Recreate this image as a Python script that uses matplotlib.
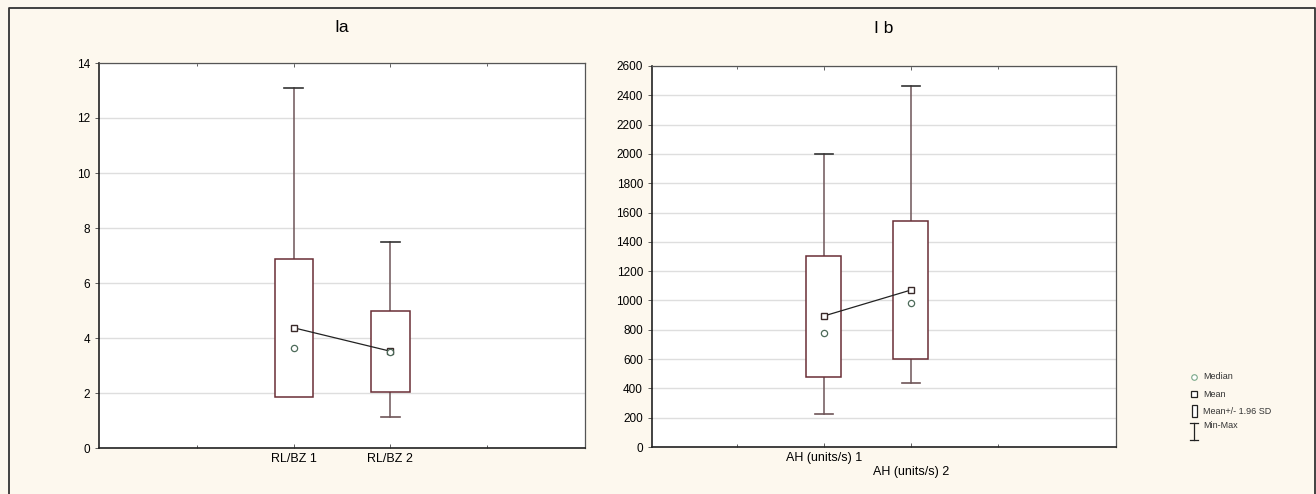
import matplotlib
matplotlib.use("Agg")
import matplotlib.pyplot as plt
from matplotlib.patches import Rectangle
import numpy as np

plt.rcParams['font.family'] = ['Liberation Sans', 'DejaVu Sans']

# panel Ia
cats_a = ['RL/BZ 1', 'RL/BZ 2']
mean_a = [4.37, 3.52]
median_a = [3.62, 3.50]
sd_lo_a = [1.85, 2.02]
sd_hi_a = [6.87, 5.00]
min_a = [1.90, 1.12]
max_a = [13.1, 7.48]

# panel I b
cats_b = ['AH (units/s) 1', '\nAH (units/s) 2']
mean_b = [894, 1071]
median_b = [778, 983]
sd_lo_b = [478, 600]
sd_hi_b = [1304, 1542]
min_b = [225, 437]
max_b = [2000, 2464]

bg = '#fdf8ee'
box_col = '#6a2e36'
wh_col = '#6e5558'

fig = plt.figure(figsize=(13.16, 4.94), dpi=100)
fig.patch.set_facecolor(bg)


def draw_panel(ax, cats, mean, median, lo, hi, mn, mx, title, ylim, yticks, xlim, pad):
    x = np.arange(1, len(cats) + 1)
    ax.set_facecolor('white')
    for xi, a, b, c, d in zip(x, lo, hi, mn, mx):
        ax.plot([xi, xi], [c, d], color=wh_col, lw=1.1, zorder=2)
        ax.plot([xi - 0.1, xi + 0.1], [d, d], color='#333333', lw=1.2, zorder=2)
        ax.plot([xi - 0.1, xi + 0.1], [c, c], color=wh_col, lw=1.2, zorder=2)
        ax.add_patch(Rectangle((xi - 0.2, a), 0.4, b - a, facecolor='white',
                               edgecolor=box_col, lw=1.1, zorder=3))
    ax.plot(x, mean, color='#222222', lw=0.9, zorder=4)
    ax.plot(x, mean, ls='none', marker='s', ms=4.5, mfc='white', mec='#3a2a2a',
            mew=1.0, zorder=5)
    ax.plot(x, median, ls='none', marker='o', ms=4.5, mfc='white', mec='#4d6b5a',
            mew=0.9, zorder=5)
    ax.set_xlim(*xlim)
    ax.set_ylim(*ylim)
    ax.set_yticks(yticks)
    ax.set_xticks(x)
    ax.set_xticklabels(cats, fontsize=9)
    ax.tick_params(axis='y', labelsize=8.5, length=3, width=0.6, color='#444444')
    ax.tick_params(axis='x', length=3, width=0.6, direction='in', top=True,
                   color='#444444')
    ax.set_xticks(np.arange(0, 4), minor=True)
    ax.tick_params(axis='x', which='minor', length=2, direction='in', top=True,
                   color='#444444')
    ax.yaxis.grid(True, color='#dedede', lw=1.0)
    ax.set_axisbelow(True)
    for s in ['top', 'right']:
        ax.spines[s].set_color('#555555')
        ax.spines[s].set_linewidth(0.9)
    for s in ['left', 'bottom']:
        ax.spines[s].set_color('#222222')
        ax.spines[s].set_linewidth(1.2)
    ax.set_title(title, fontsize=12.5, pad=pad)


ax1 = fig.add_axes([99 / 1316, 1 - 448 / 494, 486 / 1316, 385 / 494])
draw_panel(ax1, cats_a, mean_a, median_a, sd_lo_a, sd_hi_a, min_a, max_a,
           'Ia', (0, 14), np.arange(0, 15, 2), (-1.02, 4.02), 22)

ax2 = fig.add_axes([652 / 1316, 1 - 447 / 494, 464 / 1316, 381 / 494])
draw_panel(ax2, cats_b, mean_b, median_b, sd_lo_b, sd_hi_b, min_b, max_b,
           'I b', (0, 2600), np.arange(0, 2601, 200), (-0.977, 4.36), 24)

# overlay for frame and legend, pixel coordinates
ov = fig.add_axes([0, 0, 1, 1], zorder=-1)
ov.set_xlim(0, 1316)
ov.set_ylim(494, 0)
ov.axis('off')
ov.patch.set_alpha(0)
ov.plot([8.5, 8.5, 1314.5, 1314.5], [500, 8.5, 8.5, 500], color='#333333', lw=1.3)

ov2 = fig.add_axes([0, 0, 1, 1], zorder=10)
ov2.set_xlim(0, 1316)
ov2.set_ylim(494, 0)
ov2.axis('off')
ov2.patch.set_alpha(0)
lx = 1194
ov2.plot([lx], [377], marker='o', ms=4, mfc='white', mec='#7aa888', mew=0.8)
ov2.text(1203, 376, 'Median', fontsize=6.5, color='#333333', va='center')
ov2.plot([lx], [394], marker='s', ms=4, mfc='white', mec='#222222', mew=0.9)
ov2.text(1203, 394, 'Mean', fontsize=6.5, color='#333333', va='center')
ov2.add_patch(Rectangle((lx - 2.5, 405), 5, 12, facecolor='white', edgecolor='#222222', lw=0.9))
ov2.text(1203, 411, 'Mean+/- 1.96 SD', fontsize=6.5, color='#333333', va='center')
ov2.plot([lx, lx], [423, 440], color='#222222', lw=0.9)
ov2.plot([lx - 4, lx + 4], [423, 423], color='#222222', lw=0.9)
ov2.plot([lx - 4, lx + 4], [440, 440], color='#222222', lw=0.9)
ov2.text(1203, 425, 'Min-Max', fontsize=6.5, color='#333333', va='center')

fig.savefig('out.png', dpi=100, facecolor=bg)
